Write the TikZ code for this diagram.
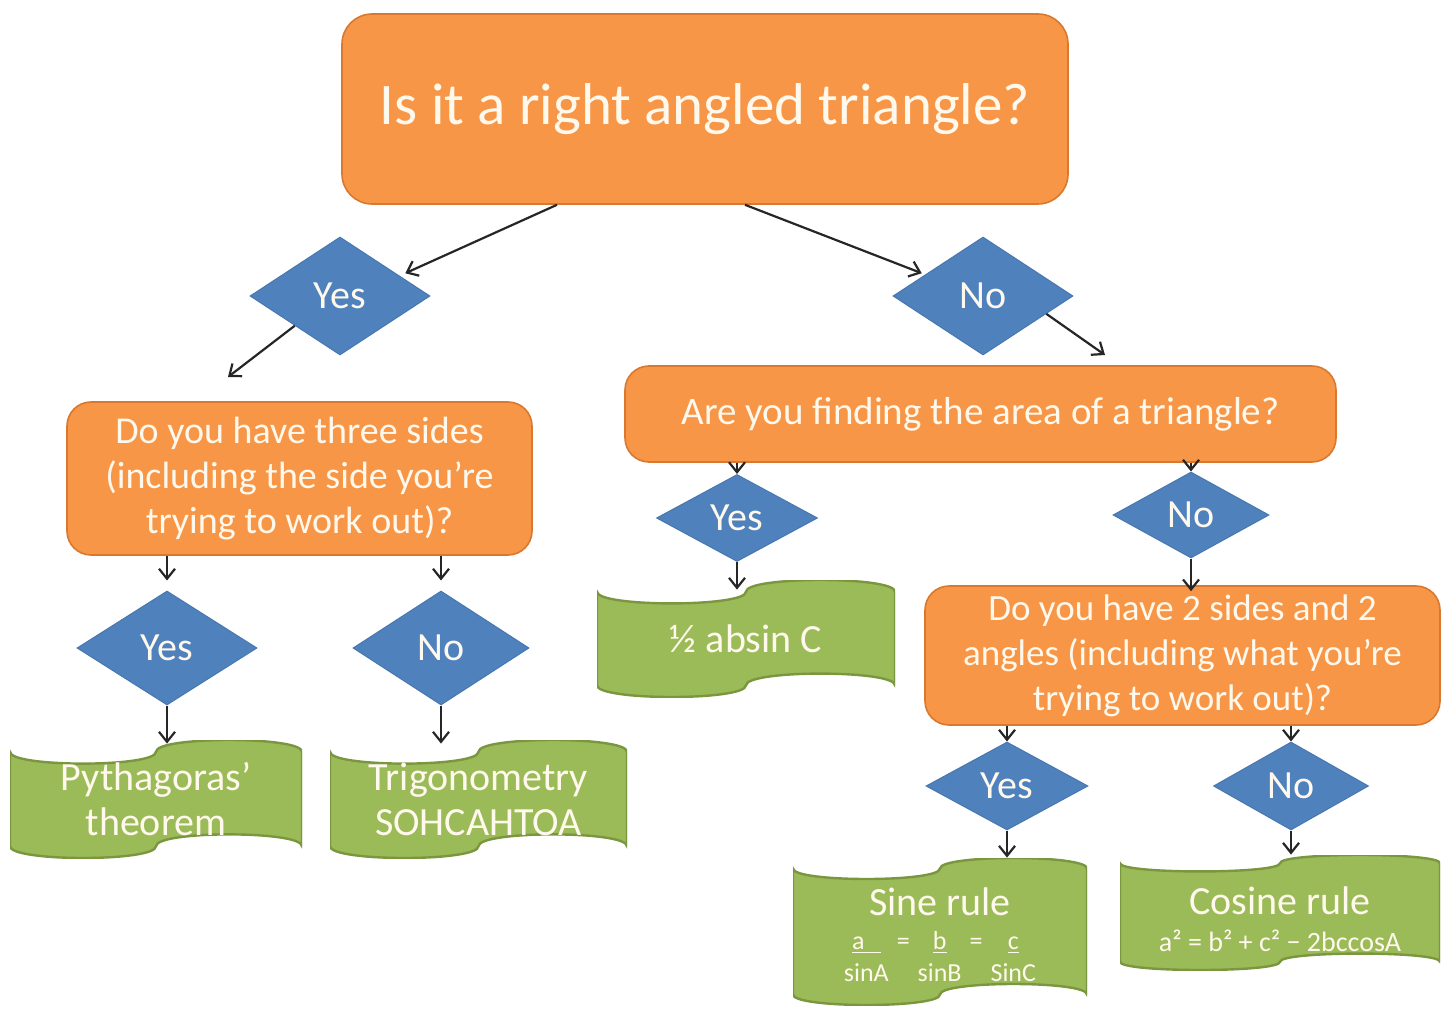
\documentclass[tikz,border=0pt]{standalone}
\usepackage{fontspec}
\setmainfont{Carlito}
\usetikzlibrary{shapes.geometric,arrows.meta,calc}
\definecolor{orfill}{HTML}{F79646}
\definecolor{ordraw}{HTML}{D9782F}
\definecolor{blfill}{HTML}{4F81BD}
\definecolor{bldraw}{HTML}{4877B0}
\definecolor{grfill}{HTML}{9BBB59}
\definecolor{grdraw}{HTML}{7A963F}
\definecolor{txt}{HTML}{FFF8EC}
\tikzset{
  wavediv/.store in=\wavediv, wavediv=10,
  qbox/.style={rectangle, rounded corners=12pt, fill=orfill, draw=ordraw, line width=0.8pt,
    text=txt, align=center, inner sep=0pt},
  dec/.style={diamond, fill=blfill, draw=bldraw, line width=0.5pt, text=txt, inner sep=0pt,
    font=\fontsize{20}{24}\selectfont},
  banner/.style={rectangle, inner sep=0pt, text=txt, align=center,
    font=\fontsize{20}{22.5}\selectfont,
    path picture={
      \filldraw[fill=grfill, draw=grdraw, line width=1.2pt]
        let \p1=(path picture bounding box.north west),
            \p2=(path picture bounding box.south east),
            \n1={(\x2-\x1)/4}, \n2={(\y1-\y2)/\wavediv} in
        (\x1,{\y1-\n2})
          .. controls (\x1,{\y1-\n2-4/3*\n2}) and ({\x1+2*\n1},{\y1-\n2-4/3*\n2}) .. ({\x1+2*\n1},{\y1-\n2})
          .. controls ({\x1+2*\n1},{\y1-\n2+4/3*\n2}) and (\x2,{\y1-\n2+4/3*\n2}) .. (\x2,{\y1-\n2})
          -- (\x2,{\y2+\n2})
          .. controls (\x2,{\y2+\n2+4/3*\n2}) and ({\x1+2*\n1},{\y2+\n2+4/3*\n2}) .. ({\x1+2*\n1},{\y2+\n2})
          .. controls ({\x1+2*\n1},{\y2+\n2-4/3*\n2}) and (\x1,{\y2+\n2-4/3*\n2}) .. (\x1,{\y2+\n2})
          -- cycle;
    }},
  arr/.style={-{Straight Barb[length=5pt,width=8pt]}, line width=1.1pt, black!85}
}
\begin{document}
\begin{tikzpicture}[x=0.5pt, y=-0.5pt]
\useasboundingbox (0,0) rectangle (1450,1010);

% top question
\node[qbox, rounded corners=15pt, minimum width=363pt, minimum height=95pt,
  font=\fontsize{29.5}{34}\selectfont] (top) at (705,109) {Is it a right angled triangle?};

\node[dec, minimum width=90pt, minimum height=59pt] (yes1) at (340,296) {Yes};
\node[dec, minimum width=90pt, minimum height=59pt] (no1) at (983,296) {No};

% left branch
\node[qbox, minimum width=232.5pt, minimum height=76.5pt, font=\fontsize{19}{22.5}\selectfont]
  (q1) at (299.5,478.5) {Do you have three sides\\(including the side you’re\\trying to work out)?};
\node[dec, minimum width=90pt, minimum height=57pt] (yes2) at (167,648) {Yes};
\node[dec, minimum width=88pt, minimum height=57pt] (no2) at (441,648) {No};
\node[banner, minimum width=146pt, minimum height=59pt] (pyth) at (156,799) {Pythagoras’\\theorem};
\node[banner, minimum width=148.5pt, minimum height=59pt] (trig) at (478.5,799) {Trigonometry\\SOHCAHTOA};

% right branch
\node[qbox, minimum width=355.5pt, minimum height=48pt, font=\fontsize{19.5}{22.5}\selectfont]
  (q2) at (980.5,414) {Are you finding the area of a triangle?};
\node[dec, minimum width=80.5pt, minimum height=43.5pt] (yes3) at (737,518) {Yes};
\node[dec, minimum width=78pt, minimum height=43pt] (no3) at (1191,515) {No};
\node[banner, minimum width=149pt, minimum height=58.5pt] (half) at (746,638.5) {½ absin C};

\node[qbox, minimum width=257.5pt, minimum height=69.5pt, font=\fontsize{18.5}{22.5}\selectfont]
  (q3) at (1182.5,655.5) {Do you have 2 sides and 2\\angles (including what you’re\\trying to work out)?};
\node[dec, minimum width=81pt, minimum height=44pt] (yes4) at (1007,786) {Yes};
\node[dec, minimum width=77.5pt, minimum height=44pt] (no4) at (1291,786) {No};
\node[banner, wavediv=14, minimum width=147pt, minimum height=73.5pt] (sine) at (940,931.5)
  {\rule{0pt}{22pt}Sine rule\\[2.5pt]
   {\fontsize{13}{16}\selectfont
    \begin{tabular}{@{}c@{\hspace{4pt}}c@{\hspace{4pt}}c@{\hspace{4pt}}c@{\hspace{4pt}}c@{}}
    \underline{a\hspace{8pt}} & = & \underline{b} & = & \underline{c}\\[0pt]
    sinA & & sinB & & SinC
    \end{tabular}}};
\node[banner, wavediv=14, minimum width=160pt, minimum height=57.5pt] (cos) at (1280,912.5)
  {\rule{0pt}{21pt}Cosine rule\\[-4pt]{\fontsize{14}{16}\selectfont a² = b² + c² − 2bccosA}};

% connectors
\coordinate (e1) at (228,377);
\coordinate (e2) at (1105,355);
\draw[arr] ([xshift=-74pt]top.south) -- ([shift={(10pt,-3.5pt)}]yes1.north east);
\draw[arr] ([xshift=20pt]top.south) -- ([shift={(-8pt,-3.5pt)}]no1.north west);
\draw[arr] (yes1.south west) -- (e1);
\draw[arr] ($(no1.east)!0.3!(no1.south)$) -- (e2);

\draw[arr] (q1.south -| yes2.north) -- ([yshift=5pt]yes2.north);
\draw[arr] (q1.south -| no2.north) -- ([yshift=5pt]no2.north);
\draw[arr] (yes2.south) -- ([yshift=-2pt]yes2.south |- pyth.north);
\draw[arr] (no2.south) -- ([yshift=-2pt]no2.south |- trig.north);

\draw[arr] (q2.south -| yes3.north) -- (yes3.north);
\draw[arr] (q2.south -| no3.north) -- (no3.north);
\draw[arr] (yes3.south) -- ([yshift=-5pt]yes3.south |- half.north);
\draw[arr] (no3.south) -- ([yshift=-3pt]no3.south |- q3.north);

\draw[arr] (q3.south -| yes4.north) -- (yes4.north);
\draw[arr] (q3.south -| no4.north) -- (no4.north);
\draw[arr] (yes4.south) -- (yes4.south |- sine.north);
\draw[arr] (no4.south) -- (no4.south |- cos.north);
\end{tikzpicture}
\end{document}
